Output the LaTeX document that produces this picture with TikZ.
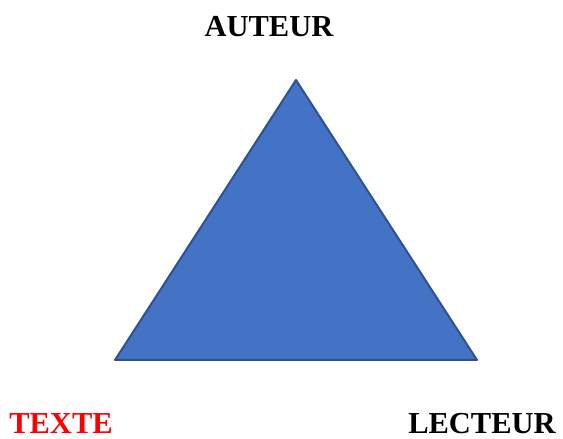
\documentclass[tikz,border=0pt]{standalone}
\usepackage{fontspec}
\setmainfont{Liberation Serif}
\definecolor{triblue}{HTML}{4472C4}
\definecolor{triedge}{HTML}{2F528F}
\begin{document}
\begin{tikzpicture}[x=1pt,y=1pt,
  role/.style={font=\fontsize{30.5}{34}\selectfont\bfseries, anchor=base, inner sep=0pt},
  tri/.style={fill=triblue, draw=triedge, line width=2pt, line join=round}]
\useasboundingbox (0,0) rectangle (563,439);
\coordinate (top) at (296,359);
\coordinate (left) at (115,79);
\coordinate (right) at (477,79);
\draw[tri] (top) -- (left) -- (right) -- cycle;
\node[role] (auteur) at (269,402) {AUTEUR};
\node[role, text=red] (texte) at (61,5) {TEXTE};
\node[role] (lecteur) at (482,5) {LECTEUR};
\end{tikzpicture}
\end{document}
